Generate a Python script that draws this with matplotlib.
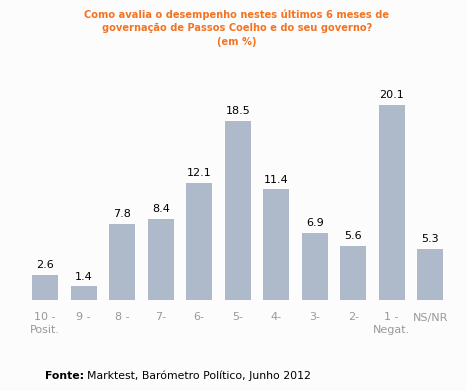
import matplotlib.pyplot as plt
import numpy as np

# data
categories = ['10 -\nPosit.', '9 -', '8 -', '7-', '6-', '5-', '4-', '3-', '2-', '1 -\nNegat.', 'NS/NR']
values = [2.6, 1.4, 7.8, 8.4, 12.1, 18.5, 11.4, 6.9, 5.6, 20.1, 5.3]

bar_color = '#aebaca'
bg = '#fcfcfc'

fig = plt.figure(figsize=(4.66, 3.91), dpi=100, facecolor=bg)
ax = fig.add_axes([26/466, 1 - 300/391, 423.5/466, 213.4/391], facecolor=bg)

x = np.arange(len(values))
ax.bar(x, values, width=0.68, color=bar_color)
for xi, v in zip(x, values):
    ax.text(xi, v + 0.5, f'{v:.1f}', ha='center', va='bottom', fontsize=8, color='black')

ax.set_xlim(-0.5, len(values) - 0.5)
ax.set_ylim(0, 22)
ax.set_xticks(x)
ax.set_xticklabels(categories, fontsize=8, color='#999999', linespacing=1.3)
ax.tick_params(axis='x', length=0, pad=9)
ax.set_yticks([])
for s in ax.spines.values():
    s.set_visible(False)

fig.text(237/466, 1 - 9/391, 'Como avalia o desempenho nestes últimos 6 meses de\n'
         'governação de Passos Coelho e do seu governo?\n(em %)',
         ha='center', va='top', fontsize=7.1, fontweight='bold', color='#f47321', linespacing=1.45)

t = fig.text(45/466, 1 - 376/391, 'Fonte:', ha='left', va='center',
             fontsize=7.8, fontweight='bold', color='black')
fig.canvas.draw()
bb = t.get_window_extent()
fig.text(bb.x1 / fig.bbox.width + 3/466, 1 - 376/391,
         'Marktest, Barómetro Político, Junho 2012',
         ha='left', va='center', fontsize=7.8, color='black')

fig.savefig('out.png', dpi=100, facecolor=bg)
